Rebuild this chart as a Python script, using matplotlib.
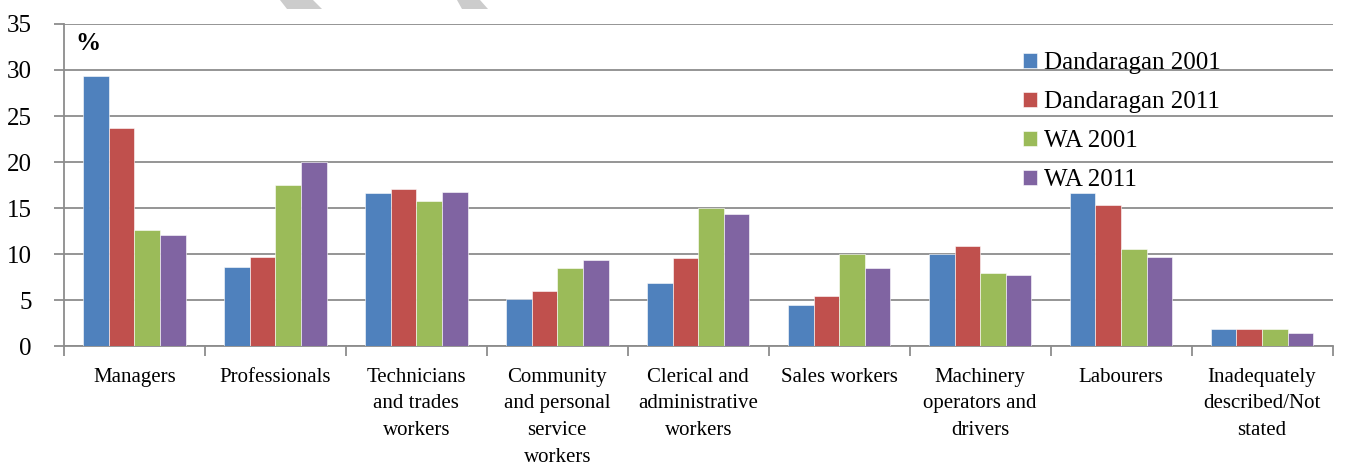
import matplotlib
matplotlib.use("Agg")
import matplotlib.pyplot as plt
import numpy as np
from matplotlib.patches import Polygon
from matplotlib.ticker import FixedLocator, MultipleLocator

plt.rcParams['font.family'] = ['Liberation Serif', 'DejaVu Serif']

# Occupation categories and shares (%)
categories = ["Managers", "Professionals", "Technicians\nand trades\nworkers",
              "Community\nand personal\nservice\nworkers",
              "Clerical and\nadministrative\nworkers", "Sales workers",
              "Machinery\noperators and\ndrivers", "Labourers",
              "Inadequately\ndescribed/Not\nstated"]
dandaragan_2001 = [29.3, 8.6, 16.6, 5.1, 6.9, 4.5, 10.0, 16.6, 1.8]
dandaragan_2011 = [23.7, 9.7, 17.1, 6.0, 9.6, 5.4, 10.9, 15.3, 1.9]
wa_2001 = [12.6, 17.5, 15.8, 8.5, 15.0, 10.0, 7.9, 10.5, 1.85]
wa_2011 = [12.1, 20.0, 16.7, 9.3, 14.3, 8.5, 7.7, 9.7, 1.45]

series = [("Dandaragan 2001", dandaragan_2001, "#4F81BD"),
          ("Dandaragan 2011", dandaragan_2011, "#C0504D"),
          ("WA 2001", wa_2001, "#9BBB59"),
          ("WA 2011", wa_2011, "#8064A2")]

fig = plt.figure(figsize=(13.46, 4.66), dpi=100)
ax = fig.add_axes([0.0475, 0.2575, 0.9425, 0.691])

x = np.arange(len(categories))
width = 1 / 5.5
for i, (name, vals, col) in enumerate(series):
    ax.bar(x + (i - 1.5) * width, vals, width, color=col, label=name,
           edgecolor="white", linewidth=0.4, zorder=3)

ax.set_xlim(-0.5, len(categories) - 0.5)
ax.set_ylim(0, 35)
ax.yaxis.set_major_locator(MultipleLocator(5))
ax.grid(axis="y", color="#8c8c8c", linewidth=1.3, zorder=0)

grey = "#8c8c8c"
for side in ["top", "right"]:
    ax.spines[side].set_visible(False)
for side in ["left", "bottom"]:
    ax.spines[side].set_color(grey)
    ax.spines[side].set_linewidth(1.3)

ax.tick_params(axis="y", labelsize=18, length=7, width=1.3, color=grey, pad=16)
ax.set_xticks(x)
ax.set_xticklabels(categories, fontsize=15, linespacing=1.55, va="top")
ax.tick_params(axis="x", which="major", length=0, pad=15.5)
ax.xaxis.set_minor_locator(FixedLocator(np.arange(-0.5, len(categories), 1.0)))
ax.tick_params(axis="x", which="minor", length=7, width=1.3, color=grey)

ax.text(0.009, 0.975, "%", transform=ax.transAxes, fontsize=18,
        fontweight="bold", va="top", ha="left")

ax.legend(loc="upper left", bbox_to_anchor=(0.746, 0.952), frameon=False,
          fontsize=18, handlelength=0.55, handleheight=0.55,
          handletextpad=0.3, labelspacing=0.68, borderpad=0)

# faint watermark fragments along the top edge
for pts in ([(280, 466), (313, 466), (322, 457), (287, 457)],
            [(457, 466), (480, 466), (488, 457), (462, 457)]):
    fig.add_artist(Polygon(pts, closed=True, transform=None,
                           facecolor="#cccccc", edgecolor="none"))

fig.savefig("out.png", dpi=100)
